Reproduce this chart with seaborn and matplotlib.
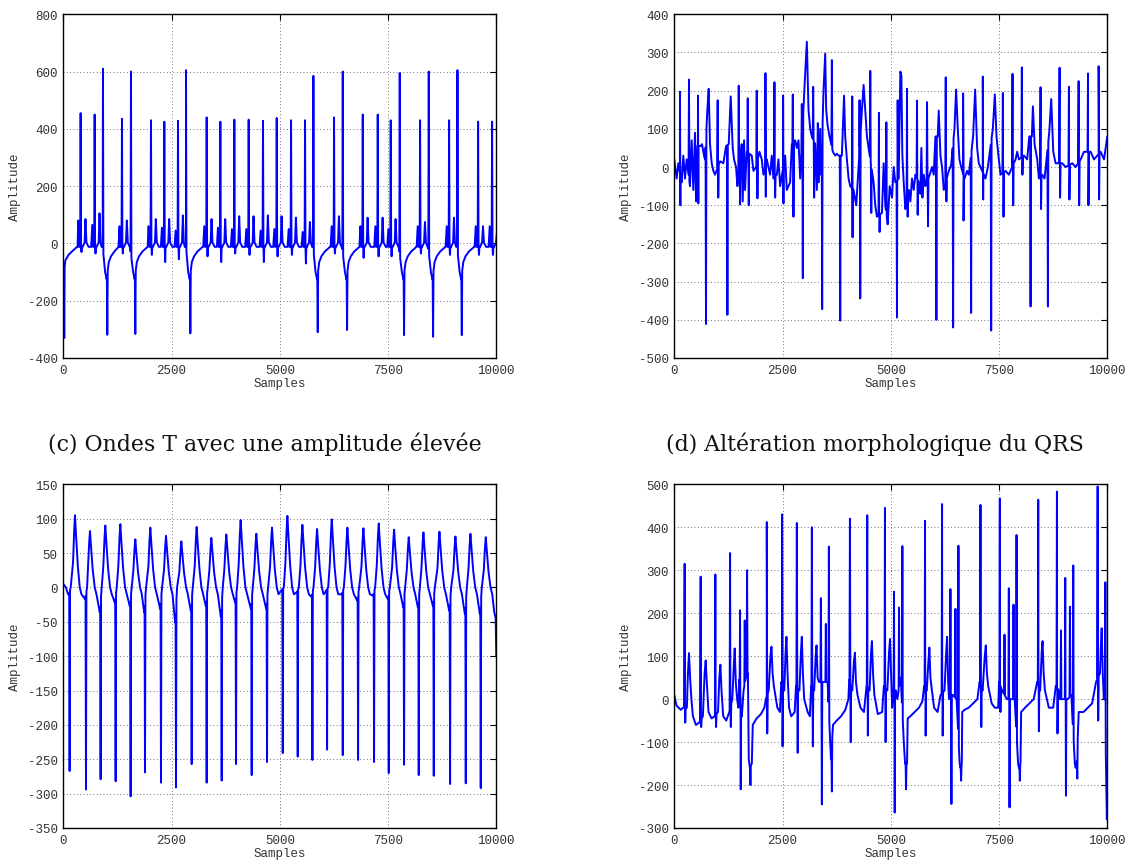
import numpy as np
import pandas as pd
import seaborn as sns
import matplotlib.pyplot as plt

sns.set_theme(style="white")
plt.rcParams["font.family"] = ["Liberation Mono", "DejaVu Sans Mono"]
plt.rcParams["font.size"] = 9
plt.rcParams["axes.unicode_minus"] = False

LINE_COLOR = "#0000ff"

# ---------------------------------------------------------------- (a)
# normal beats: R peak position / height, S dip, P and T bumps
a_norm_pos = [400, 724, 1355, 2025, 2333, 2649, 3311, 3627, 3950, 4281, 4612,
              4929, 5260, 5583, 6253, 6916, 7262, 7562, 8240, 8910, 9580, 9903]
a_norm_r = [455, 450, 435, 430, 425, 428, 440, 425, 432, 432, 428,
            438, 430, 430, 440, 450, 450, 430, 430, 430, 425, 425]
a_norm_s = [-30, -35, -35, -40, -65, -55, -45, -65, -35, -40, -65,
            -45, -40, -70, -35, -50, -45, -45, -35, -40, -40, -40]
a_norm_p = [80, 65, 60, 60, 55, 45, 60, 55, 50, 50, 45,
            50, 50, 40, 60, 60, 60, 50, 60, 60, 60, 60]
a_norm_t = [85, 105, 80, 85, 85, 98, 85, 85, 95, 95, 98,
            95, 90, 75, 95, 90, 90, 85, 75, 90, 60, 40]
# ectopic beats: tall R followed by a deep S and a slow recovery
a_pvc_pos = [916, 1563, 2834, 5776, 6454, 7770, 8440, 9103]
a_pvc_r = [610, 600, 605, 585, 600, 595, 600, 605]
a_pvc_s = [-319, -316, -314, -310, -302, -320, -326, -320]
a_baseline = -12

# ---------------------------------------------------------------- (b)
b_base_x = [0, 54, 93, 170, 208, 247, 285, 362, 401, 439, 478, 501, 532, 609, 640,
            686, 709, 763, 794, 825, 864, 902, 941, 1056, 1133, 1195, 1257, 1303,
            1349, 1380, 1426, 1457, 1557, 1580, 1611, 1634, 1673, 1789, 1827, 1889,
            1966, 2020, 2059, 2136, 2213, 2251, 2290, 2367, 2405, 2444, 2560, 2598,
            2675, 2714, 2791, 2830, 2868, 2907, 3007, 3061, 3099, 3138, 3176, 3253,
            3292, 3315, 3338, 3369, 3392, 3446, 3485, 3508, 3539, 3585, 3624, 3662,
            3716, 3755, 3793, 3870, 3920, 3947, 3986, 4025, 4063, 4140, 4202, 4256,
            4333, 4372, 4410, 4449, 4487, 4603, 4641, 4680, 4796, 4835, 4874, 4928,
            4974, 5028, 5066, 5105, 5182, 5221, 5244, 5267, 5298, 5336, 5413, 5452,
            5490, 5529, 5568, 5645, 5683, 5706, 5730, 5760, 5799, 5899, 5953, 5992,
            6030, 6084, 6107, 6146, 6184, 6223, 6339, 6393, 6470, 6508, 6547, 6585,
            6624, 6701, 6763, 6801, 6901, 6948, 6994, 7032, 7071, 7187, 7241, 7356,
            7403, 7441, 7495, 7534, 7649, 7726, 7881, 7919, 7958, 8073, 8150, 8197,
            8258, 8282, 8320, 8382, 8420, 8497, 8551, 8659, 8705, 8752, 8806, 8960,
            9037, 9191, 9268, 9384, 9461, 9615, 9692, 9847, 9924, 10000]
b_base_y = [20, -30, 10, -40, 30, -30, 20, -50, 70, -60, 90, -90, 55, 55, 60,
            30, 20, 150, 205, 60, 10, -10, -20, 15, 10, 55, 60, 185,
            50, 20, 0, -50, 60, -90, 70, -60, 40, 30, -10, 0,
            40, 20, -20, 20, -20, 30, -30, -20, 20, -50, 30, -60,
            -40, 60, 70, 50, 70, -30, 210, 328, 150, 100, 80, 60,
            -60, 115, -40, 100, -20, 200, 297, 150, 110, 80, 60, 40,
            30, 35, 30, 30, 187, 80, 20, -30, -50, -60, -100, 0,
            150, 215, 150, 80, 50, -40, -100, -130, -120, 10, -100, -150,
            -50, -80, 0, -40, -30, 250, 240, 30, -40, -110, -60, -90,
            -30, -60, -20, -40, -70, 50, -80, -20, -50, -20, 0, -20,
            80, 80, 148, 30, 0, -60, -10, 5, 100, 203, 100, 20,
            0, -30, -10, -20, 80, 203, 50, 10, 0, -30, 0, 100,
            190, 80, 20, -20, -10, -20, 20, 40, 20, 30, 20, 80,
            80, 159, 60, 20, -30, -20, -30, 90, 178, 40, 10, 10,
            0, 10, 0, 20, 40, 40, 20, 40, 20, 80]
b_tip_x = [131, 140, 339, 547, 555, 732, 1002, 1015, 1226, 1488, 1519, 1696, 1720,
           1904, 1920, 2105, 2113, 2313, 2329, 2513, 2521, 2737, 2752, 2945, 2968,
           3207, 3230, 3415, 3639, 3832, 4109, 4117, 4278, 4294, 4526, 4549, 4726,
           4741, 4897, 5143, 5159, 5375, 5390, 5606, 5621, 5837, 5860, 6053, 6269,
           6284, 6439, 6670, 6680, 6855, 7125, 7133, 7318, 7588, 7603, 7811, 7827,
           8027, 8040, 8228, 8459, 8470, 8628, 8898, 8910, 9114, 9125, 9338, 9350,
           9554, 9565, 9800, 9810]
b_tip_y = [197, -100, 229, 187, -95, -411, 175, -80, -387, 213, -98, 180, -100,
           200, -82, 246, -78, 222, -80, 187, -95, 190, -130, 165, -291,
           210, -80, -372, 280, -402, 185, -184, 175, -344, 252, -120, 142,
           -170, 117, -394, 175, 205, -130, 174, -125, 170, -155, -400, 235,
           -90, -420, 193, -140, -382, 237, -85, -428, 194, -130, 244, -100,
           261, -20, -365, 209, -110, -365, 260, -80, 210, -85, 225, -100,
           245, -100, 264, -85]

# ---------------------------------------------------------------- (c)
c_s_pos = [146, 524, 862, 1209, 1555, 1887, 2256, 2603, 2965, 3311, 3658, 3989,
           4351, 4705, 5068, 5414, 5753, 6092, 6454, 6808, 7177, 7516, 7870,
           8209, 8556, 8933, 9295, 9641]
c_s_amp = [-267, -294, -279, -282, -304, -269, -284, -291, -257, -284, -281, -257,
           -273, -254, -241, -246, -251, -236, -244, -251, -254, -270, -258,
           -273, -274, -286, -285, -292]
c_t_pos = [270, 616, 970, 1317, 1663, 2010, 2372, 2726, 3080, 3419, 3765, 4096,
           4458, 4820, 5175, 5522, 5861, 6200, 6561, 6931, 7285, 7639, 7978,
           8317, 8687, 9056, 9403, 9757]
c_t_amp = [105, 82, 90, 92, 70, 87, 75, 67, 88, 72, 77, 98,
           78, 87, 104, 91, 85, 99, 87, 86, 93, 84, 73,
           80, 81, 74, 78, 73]
c_pre = [-10, -17, -36, -22, -27, -36, -31, -51, -34, -27, -43, -22,
         -31, -31, -3, -7, -14, -5, -10, -19, -12, -17, -29,
         -29, -27, -34, -39, -39]

# ---------------------------------------------------------------- (d)
d_base_x = [0, 50, 150, 200, 290, 315, 339, 365, 395, 430, 500, 570,
            660, 700, 725, 750, 790, 860, 930,
            1010, 1040, 1064, 1090, 1130, 1200, 1270,
            1340, 1375, 1395, 1420, 1450, 1480, 1500,
            1560, 1600, 1650, 1700, 1720, 1745, 1790, 1812, 1900, 2000, 2080, 2115,
            2180, 2220, 2244, 2270, 2300, 2380, 2440, 2470,
            2540, 2570, 2590, 2615, 2650, 2700, 2780, 2810,
            2890, 2925, 2945, 2970, 3000, 3080, 3130, 3160,
            3230, 3265, 3285, 3310, 3340, 3450, 3540, 3600, 3620, 3665, 3750, 3850,
            3950, 4020, 4040,
            4110, 4150, 4171, 4195, 4230, 4300, 4380, 4440,
            4510, 4545, 4564, 4590, 4620, 4700, 4800, 4840,
            4920, 4960, 4982, 5005, 5030, 5060, 5120, 5150, 5230, 5300, 5330, 5375,
            5390, 5450, 5550, 5650, 5730, 5770,
            5830, 5870, 5891, 5915, 5950, 6000, 6080, 6150,
            6240, 6280, 6300, 6325, 6345, 6430, 6520, 6590, 6610, 6640, 6650, 6700,
            6800, 6900, 7000, 7050,
            7120, 7170, 7194, 7220, 7250, 7330, 7400, 7480, 7500,
            7570, 7680, 7790, 7860, 7940, 7960, 7995, 8010, 8100, 8200, 8300, 8380,
            8450, 8485, 8505, 8530, 8560, 8650, 8750, 8810,
            8880, 8900, 9000, 9090, 9170, 9250, 9270, 9295, 9340, 9450, 9550, 9650,
            9740, 9830, 9850, 9870, 9895, 9920, 9940, 9990, 10000]
d_base_y = [10, -15, -25, -20, -20, 60, 107, 50, 0, -40, -60, -55,
            -40, 60, 90, 40, -30, -45, -40,
            -30, 50, 80, 20, -40, -50, -30,
            0, 80, 118, 40, 0, -20, 45,
            -40, 20, 50, 60, -140, -160, -150, -60, -45, -35, -20, 0,
            20, 100, 122, 60, 30, -20, -30, 40,
            20, 110, 145, 60, -20, -40, -30, 30,
            20, 110, 145, 60, 0, -30, -40, 30,
            20, 100, 125, 50, 40, 40, 40, -100, -140, -60, -50, -40,
            -25, 0, 45,
            20, 90, 108, 40, 10, -20, -30, 30,
            20, 110, 135, 60, 10, -35, -30, 30,
            20, 110, 140, 60, -20, 20, 20, 0, 50, -100, -150, -150,
            -45, -40, -30, -20, -5, 30,
            20, 90, 120, 50, 20, -20, -30, 10,
            20, 110, 145, 40, 0, 10, 0, -150, -160, -150, -30, -25,
            -20, -10, 0, 40,
            20, 100, 125, 60, 30, -10, -20, -20, 40,
            20, 0, 0, 0, -150, -160, -150, -30, -20, -10, 0, 40,
            20, 110, 135, 60, 20, -20, -20, 30,
            20, 0, 0, 0, 10, -150, -160, -150, -30, -30, -20, -10,
            40, 60, 120, 165, 60, 0, 30, -280, -200]
d_tip_x = [239, 252, 609, 620, 948, 965, 1288, 1305, 1519, 1534, 1627, 1681, 1758,
           2136, 2146, 2490, 2500, 2830, 2850, 3177, 3200, 3385, 3408, 3500, 3570,
           3639, 4056, 4075, 4456, 4470, 4865, 4880, 5074, 5090, 5190, 5267, 5352,
           5791, 5805, 6184, 6198, 6377, 6400, 6493, 6562, 6624, 7071, 7090, 7518,
           7532, 7626, 7726, 7742, 7834, 7904, 7980, 8405, 8420, 8837, 8850, 8930,
           9029, 9045, 9137, 9214, 9307, 9777, 9790, 9955]
d_tip_y = [315, -55, 285, -65, 290, -65, 340, -65, 207, -210, 183, 300, -200,
           412, -80, 430, -110, 410, -125, 400, -110, 235, -245, 175, 355,
           -215, 420, -100, 428, -85, 445, -100, 250, -264, 213, 356, -210,
           415, -85, 454, -85, 256, -244, 210, 357, -190, 452, -65, 467,
           -30, 150, 258, -252, 220, 382, -190, 464, -75, 483, -80, 160,
           282, -225, 215, 311, -185, 495, -50, 272]


def compose(base_x, base_y, tip_x, tip_y, half=10):
    """Merge a slow baseline with narrow spikes whose feet sit on that baseline."""
    bx = np.asarray(base_x, float)
    by = np.asarray(base_y, float)
    tx = np.asarray(tip_x, float)
    ty = np.asarray(tip_y, float)
    order_b = np.argsort(bx, kind="stable")
    bx, by = bx[order_b], by[order_b]
    feet = np.concatenate([tx - half, tx + half])
    xs = np.concatenate([bx, feet, tx])
    ys = np.concatenate([by, np.interp(feet, bx, by), ty])
    order = np.argsort(xs, kind="stable")
    return pd.DataFrame({"Samples": xs[order], "Amplitude": ys[order]})


def trace_a():
    b = a_baseline
    bx = [0, 45, 120, 220, 330]
    by = [-140, -60, -40, -25, -12]
    tx = [22]
    ty = [-330]
    for r, R, S, P, T in zip(a_norm_pos, a_norm_r, a_norm_s, a_norm_p, a_norm_t):
        bx += [r - 80, r - 55, r - 35, r + 45, r + 92, r + 112, r + 135, r + 185]
        by += [b, P, b, b, b + 15, T, b + 15, b]
        tx += [r, r + 20]
        ty += [R, S]
    for r, R, S in zip(a_pvc_pos, a_pvc_r, a_pvc_s):
        bx += [r - 30, r + 50, r + 85, r + 135, r + 185, r + 265, r + 385]
        by += [b, -100, -125, -65, -45, -28, -12]
        tx += [r, r + 100]
        ty += [R, S]
    return compose(bx, by, tx, ty)


def trace_c():
    bx = [0, 60, 110]
    by = [5, 0, -10]
    for s, tp, ta, pre in zip(c_s_pos, c_t_pos, c_t_amp, c_pre):
        bx += [s - 20, s + 25, tp - 45, tp - 18, tp, tp + 22, tp + 65, tp + 110, tp + 150]
        by += [pre, 0, 0.35 * ta, 0.8 * ta, ta, 0.75 * ta, 0.3 * ta, 0, -10]
    bx += [9950, 9985, 10000]
    by += [-35, -45, -100]
    return compose(bx, by, c_s_pos, c_s_amp)


panels = [
    (trace_a(), (63.3, 15.3), (-400, 800), 200, None),
    (compose(b_base_x, b_base_y, b_tip_x, b_tip_y), (674.3, 15.3), (-500, 400), 100, None),
    (trace_c(), (63.3, 485.3), (-350, 150), 50,
     "(c) Ondes T avec une amplitude élevée"),
    (compose(d_base_x, d_base_y, d_tip_x, d_tip_y), (674.3, 485.3), (-300, 500), 100,
     "(d) Altération morphologique du QRS"),
]

W, H = 1132, 862
AX_W, AX_H = 433.0, 343.7
fig = plt.figure(figsize=(W / 100, H / 100), dpi=100)

for df, (left, top), ylim, ystep, title in panels:
    ax = fig.add_axes([left / W, 1 - (top + AX_H) / H, AX_W / W, AX_H / H])
    sns.lineplot(data=df, x="Samples", y="Amplitude", sort=False, estimator=None,
                 color=LINE_COLOR, linewidth=1.4, ax=ax)
    ax.set_xlim(0, 10000)
    ax.set_ylim(*ylim)
    ax.set_xticks([0, 2500, 5000, 7500, 10000])
    ax.set_yticks(np.arange(ylim[0], ylim[1] + 1, ystep))
    ax.grid(True, linestyle=(0, (1, 3)), color="#444444", linewidth=0.6)
    ax.tick_params(direction="in", top=True, right=True, length=4, width=0.8,
                   color="black", labelcolor="#333333", labelsize=9, pad=4)
    for spine in ax.spines.values():
        spine.set_color("black")
        spine.set_linewidth(1.0)
    ax.set_xlabel("Samples", fontsize=9, color="#333333", labelpad=1)
    ax.set_ylabel("Amplitude", fontsize=9, color="#333333", labelpad=5)
    if title:
        cx = 265 if left < 300 else 875
        fig.text(cx / W, 1 - 444 / H, title, ha="center", va="center",
                 family="DejaVu Serif", fontsize=15.8, color="#111111")

fig.savefig("out.png", dpi=100)
